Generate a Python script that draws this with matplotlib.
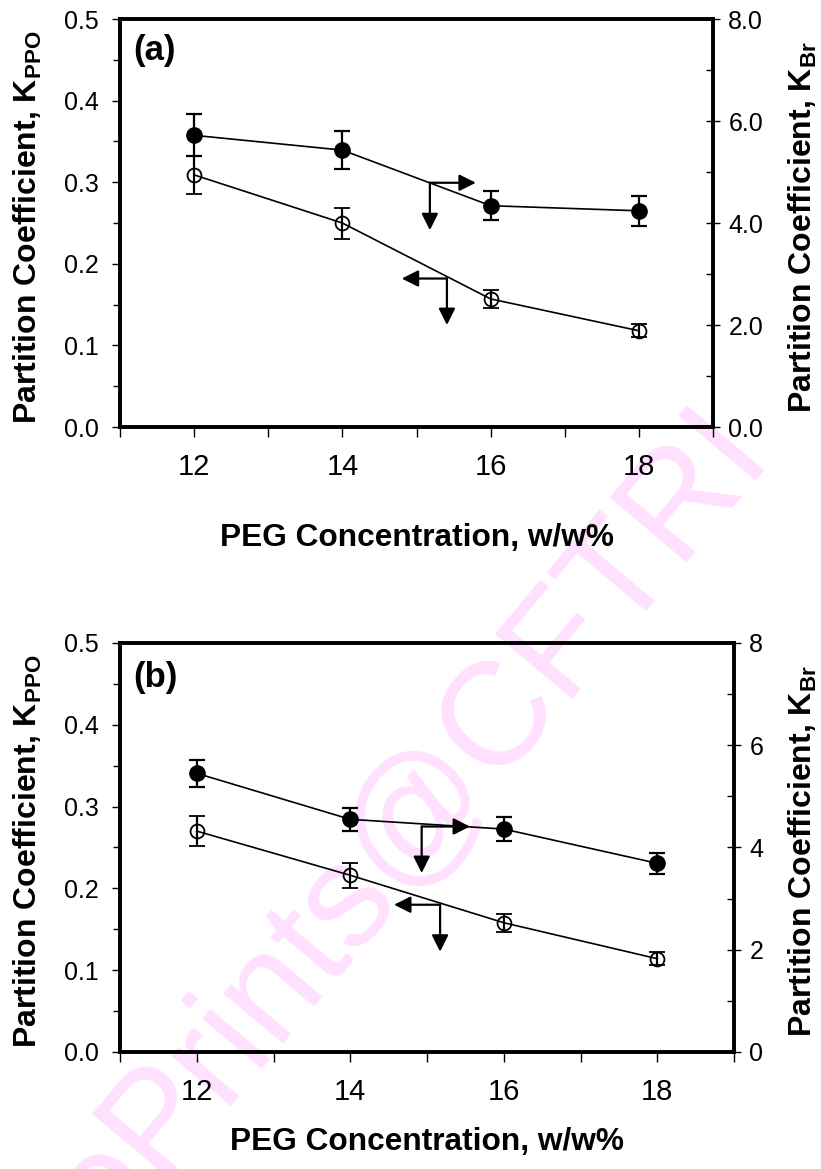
import matplotlib
matplotlib.use('Agg')
import matplotlib.pyplot as plt
from matplotlib.ticker import MultipleLocator, FormatStrFormatter

plt.rcParams['font.family'] = ['Liberation Sans', 'DejaVu Sans']
plt.rcParams['mathtext.fontset'] = 'custom'
plt.rcParams['mathtext.bf'] = 'Liberation Sans:bold'
plt.rcParams['mathtext.rm'] = 'Liberation Sans'

# PEG concentration, w/w%
peg = [12, 14, 16, 18]

# panel (a)
kppo_a = [0.309, 0.250, 0.157, 0.118]
kppo_a_err = [0.023, 0.019, 0.011, 0.008]
kbr_a = [5.72, 5.43, 4.34, 4.24]
kbr_a_err = [0.41, 0.37, 0.29, 0.29]

# panel (b)
kppo_b = [0.270, 0.216, 0.158, 0.114]
kppo_b_err = [0.018, 0.015, 0.011, 0.008]
kbr_b = [5.45, 4.55, 4.36, 3.69]
kbr_b_err = [0.26, 0.22, 0.23, 0.20]

xticks = [12, 14, 16, 18]

fig = plt.figure(figsize=(8.21, 11.69), dpi=100)

# watermark behind everything
fig.text(0.50, 0.295, 'ePrints@CFTRI', rotation=50, fontsize=105,
         color='#ffe0ff', ha='center', va='center', zorder=-1)


def arrow(ax, start, end):
    ax.annotate('', xy=end, xytext=start,
                arrowprops=dict(arrowstyle='-|>,head_length=0.5,head_width=0.25',
                                lw=1.6, color='black', mutation_scale=20,
                                shrinkA=0, shrinkB=0))


def panel(rect, kppo, kppo_err, kbr, kbr_err, tag, tag_y, right_fmt, xlab_y,
          arr_br, arr_ppo):
    ax = fig.add_axes(rect)
    ax.patch.set_alpha(0)
    ax2 = ax.twinx()
    ax2.patch.set_alpha(0)

    ax.errorbar(peg, kppo, yerr=kppo_err, color='black', lw=1.2,
                marker='o', ms=10, mfc='none', mec='black', mew=1.3,
                ecolor='black', elinewidth=1.6, capsize=6, capthick=1.6)
    ax2.errorbar(peg, kbr, yerr=kbr_err, color='black', lw=1.2,
                 marker='o', ms=11, mfc='black', mec='black',
                 ecolor='black', elinewidth=1.6, capsize=6, capthick=1.6)

    ax.set_xlim(11, 19)
    ax.set_ylim(0, 0.5)
    ax2.set_ylim(0, 8)
    ax.set_xticks(xticks)
    ax.xaxis.set_minor_locator(MultipleLocator(1))
    ax.yaxis.set_major_locator(MultipleLocator(0.1))
    ax.yaxis.set_minor_locator(MultipleLocator(0.05))
    ax.yaxis.set_major_formatter(FormatStrFormatter('%.1f'))
    ax2.yaxis.set_major_locator(MultipleLocator(2))
    ax2.yaxis.set_minor_locator(MultipleLocator(1))
    ax2.yaxis.set_major_formatter(FormatStrFormatter(right_fmt))

    for a in (ax, ax2):
        for s in a.spines.values():
            s.set_linewidth(2.6)

    ax.tick_params(axis='x', which='both', direction='out', length=7,
                   width=1, labelsize=21, pad=12)
    ax.tick_params(axis='y', which='major', direction='out', length=6,
                   width=1, labelsize=18, pad=9)
    ax.tick_params(axis='y', which='minor', direction='out', length=5,
                   width=1)
    ax2.tick_params(axis='y', which='major', direction='inout', length=10,
                    width=1, labelsize=18, pad=6)
    ax2.tick_params(axis='y', which='minor', direction='in', length=5,
                    width=1)

    ax.set_xlabel('PEG Concentration, w/w%', fontsize=22.8, fontweight='bold')
    ax.xaxis.set_label_coords(0.5, xlab_y)
    ax.xaxis.label.set_va('center')
    ax.set_ylabel(r'Partition Coefficient, K$_{\mathbf{PPO}}$',
                  fontsize=23, fontweight='bold')
    ax.yaxis.set_label_coords((28 / 821 - rect[0]) / rect[2], 0.49)
    ax.yaxis.label.set_va('center')
    ax2.set_ylabel(r'Partition Coefficient, K$_{\mathbf{Br}}$',
                   fontsize=23, fontweight='bold', rotation=90)
    ax2.yaxis.set_label_coords((803 / 821 - rect[0]) / rect[2], 0.49)
    ax2.yaxis.label.set_va('center')

    ax.text(0.022, tag_y, tag, transform=ax.transAxes, fontsize=25,
            fontweight='bold', ha='left', va='center')

    # arrows pointing to the axis each curve belongs to
    c, r, d = arr_br
    arrow(ax2, c, (r, c[1]))
    arrow(ax2, c, (c[0], d))
    c, l, d = arr_ppo
    arrow(ax, c, (l, c[1]))
    arrow(ax, c, (c[0], d))
    return ax, ax2


panel([0.1462, 0.6347, 0.7223, 0.349], kppo_a, kppo_a_err, kbr_a, kbr_a_err,
      '(a)', 0.922, '%.1f', -0.272,
      ((15.18, 4.79), 15.80, 3.86), ((15.41, 0.182), 14.80, 0.125))
panel([0.1462, 0.1001, 0.7479, 0.3499], kppo_b, kppo_b_err, kbr_b, kbr_b_err,
      '(b)', 0.915, '%d', -0.220,
      ((14.93, 4.41), 15.56, 3.50), ((15.17, 0.180), 14.57, 0.1226))

fig.savefig('out.png', dpi=100)
